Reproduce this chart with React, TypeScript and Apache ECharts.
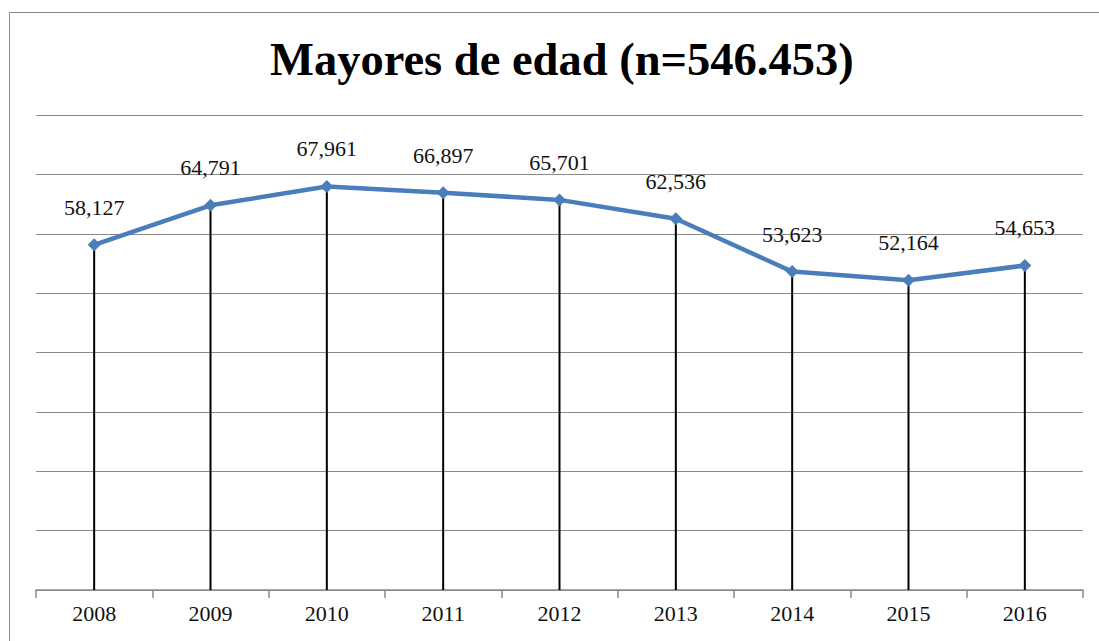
import React, { useEffect, useRef } from "react";
import * as echarts from "echarts";

const years = ["2008", "2009", "2010", "2011", "2012", "2013", "2014", "2015", "2016"];
const values = [58127, 64791, 67961, 66897, 65701, 62536, 53623, 52164, 54653];
const titleText = "Mayores de edad (n=546.453)";

export default function App() {
  const ref = useRef<HTMLDivElement>(null);
  useEffect(() => {
    if (!ref.current) return;
    const chart = echarts.init(ref.current, undefined, { renderer: "svg" });
    const serif = "Liberation Serif, Times New Roman, serif";
    chart.setOption({
      animation: false,
      backgroundColor: "#ffffff",
      title: {
        text: titleText,
        left: 265,
        top: 31,
        textStyle: { fontFamily: serif, fontSize: 46.5, fontWeight: "bold", color: "#000" },
      },
      graphic: [
        {
          type: "rect",
          shape: { x: 9.5, y: 12.5, width: 1300, height: 900 },
          style: { fill: "none", stroke: "#8a8a8a", lineWidth: 1 },
          silent: true,
          z: 100,
        },
      ],
      grid: { left: 36, right: 16, top: 115, bottom: 51 },
      xAxis: {
        type: "category",
        data: years,
        boundaryGap: true,
        axisLine: { show: true, lineStyle: { color: "#8a8a8a", width: 1.5 } },
        axisTick: { show: true, length: 8, inside: false, alignWithLabel: false, lineStyle: { color: "#8a8a8a", width: 1.5 } },
        axisLabel: { fontFamily: serif, fontSize: 22, color: "#111", margin: 12 },
        splitLine: { show: false },
      },
      yAxis: {
        type: "value",
        min: 0,
        max: 80000,
        interval: 10000,
        axisLine: { show: false },
        axisTick: { show: false },
        axisLabel: { show: false },
        splitLine: { show: true, lineStyle: { color: "#8a8a8a", width: 1.2 } },
      },
      series: [
        {
          type: "bar",
          data: values,
          barWidth: 2,
          itemStyle: { color: "#000" },
          silent: true,
          z: 1,
        },
        {
          type: "line",
          data: values,
          z: 3,
          symbol: "diamond",
          symbolSize: 13,
          lineStyle: { color: "#4A7EBB", width: 4.5 },
          itemStyle: { color: "#4A7EBB" },
          label: {
            show: true,
            position: "top",
            distance: 20,
            fontFamily: serif,
            fontSize: 22,
            color: "#111",
            formatter: (p: any) => Number(p.value).toLocaleString("en-US"),
          },
        },
      ],
    });
    return () => chart.dispose();
  }, []);
  return (
    <div
      ref={ref}
      style={{ position: "absolute", left: 0, top: 0, width: 1099, height: 641, background: "#fff" }}
    />
  );
}
